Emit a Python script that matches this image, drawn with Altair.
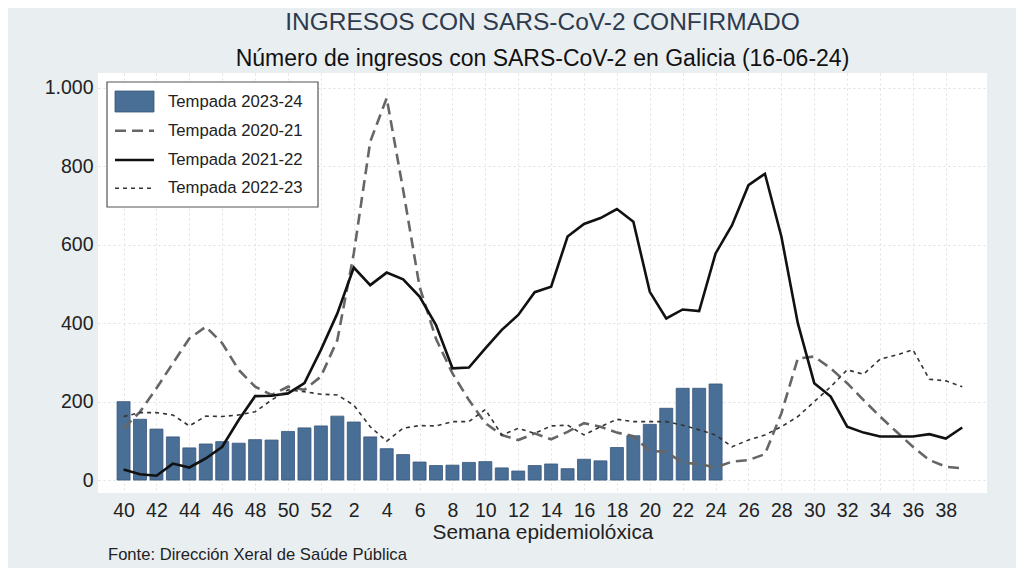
import altair as alt
import pandas as pd

# Epidemiological weeks (season runs week 40 -> week 39)
weeks = list(range(40, 53)) + list(range(1, 40))

# Season 2023-24 (bars), weeks 40..24
t2324 = [200, 155, 130, 110, 82, 92, 98, 94, 103, 102, 124, 133, 138,
         163, 148, 110, 80, 65, 46,
         37, 38, 45, 47, 31, 23, 37, 41, 29, 53, 49, 83, 113, 142, 183, 234, 234, 245]

# Season 2020-21 (long dash)
t2021 = [132, 174, 234, 298, 361, 391, 349, 281, 238, 217, 238, 230, 264, 357, 578, 863, 974, 740, 493,
         360, 272, 204, 145, 115, 102, 119, 104, 123, 145, 136, 121, 112, 74, 72, 44, 41, 32, 47,
         51, 66, 170, 310, 315, 285, 247, 204, 162, 123, 85, 51, 34, 30]

# Season 2021-22 (solid)
t2122 = [27, 15, 11, 42, 32, 55, 85, 153, 214, 215, 221, 247, 332, 425, 542, 497, 529, 512, 468,
         395, 285, 287, 336, 383, 421, 479, 493, 621, 653, 668, 691, 659, 480, 412, 435, 431, 578, 650,
         752, 781, 621, 400, 247, 213, 136, 121, 111, 111, 111, 117, 106, 134]

# Season 2022-23 (short dash)
t2223 = [162, 172, 172, 166, 138, 163, 162, 166, 174, 204, 230, 225, 219, 217, 191, 136, 99, 132, 139,
         138, 149, 149, 180, 115, 132, 119, 138, 140, 115, 136, 155, 149, 149, 149, 140, 128, 115, 85,
         102, 115, 136, 162, 200, 238, 281, 270, 308, 319, 332, 257, 253, 238]

legend_labels = ["Tempada 2023-24", "Tempada 2020-21", "Tempada 2021-22", "Tempada 2022-23"]
tick_idx = list(range(0, 52, 2))
y_ticks = [0, 200, 400, 600, 800, 1000]

FONT = "Liberation Sans"
BAR_COLOR = "#4a6f96"

idx = list(range(len(weeks)))
lines_df = pd.DataFrame({"idx": idx, "week": weeks,
                         "t2021": t2021, "t2122": t2122, "t2223": t2223})
bars_df = pd.DataFrame({"idx": idx[:len(t2324)], "week": weeks[:len(t2324)], "val": t2324})

x_scale = alt.Scale(domain=[-1.25, 52.2], nice=False, zero=False)
y_scale = alt.Scale(domain=[-33, 1038], nice=False, zero=False)

x_axis = alt.Axis(values=tick_idx,
                  labelExpr="datum.value <= 12 ? toString(datum.value + 40) : toString(datum.value - 12)",
                  domain=False, ticks=False, labelFontSize=19.5, labelPadding=8,
                  labelColor="#222222", labelFont=FONT, labelOverlap=False, labelSeparation=0,
                  title="Semana epidemiolóxica", titleFontSize=20.8, titleFontWeight="normal",
                  titleFont=FONT, titleColor="#222222", titlePadding=3,
                  grid=True, gridDash=[2, 3], gridColor="#e0e0e0", labelFlush=False)
y_axis = alt.Axis(values=y_ticks,
                  labelExpr="datum.value == 1000 ? '1.000' : datum.label",
                  domain=False, ticks=False, labelFontSize=19.5, labelPadding=5,
                  labelColor="#222222", labelFont=FONT, title=None, labelOverlap=False,
                  grid=True, gridDash=[2, 3], gridColor="#e0e0e0")

bars = alt.Chart(bars_df).mark_bar(size=13, color=BAR_COLOR, stroke="#38557a",
                                   strokeWidth=0.8).encode(
    x=alt.X("idx:Q", scale=x_scale, axis=x_axis),
    y=alt.Y("val:Q", scale=y_scale, axis=y_axis),
)

base = alt.Chart(lines_df)
l2021 = base.mark_line(color="#666666", strokeWidth=2.6, strokeDash=[11, 6]).encode(
    x=alt.X("idx:Q", scale=x_scale, axis=x_axis), y=alt.Y("t2021:Q", scale=y_scale, axis=y_axis))
l2122 = base.mark_line(color="#111111", strokeWidth=2.6).encode(
    x=alt.X("idx:Q", scale=x_scale, axis=x_axis), y=alt.Y("t2122:Q", scale=y_scale, axis=y_axis))
l2223 = base.mark_line(color="#333333", strokeWidth=1.6, strokeDash=[4, 4]).encode(
    x=alt.X("idx:Q", scale=x_scale, axis=x_axis), y=alt.Y("t2223:Q", scale=y_scale, axis=y_axis))

one = pd.DataFrame({"a": [0]})
leg_box = alt.Chart(one).mark_rect(fill="white", stroke="#555555", strokeWidth=1.2).encode(
    x=alt.value(9), x2=alt.value(220), y=alt.value(9), y2=alt.value(134))
leg_bar = alt.Chart(one).mark_rect(fill=BAR_COLOR, stroke="#38557a", strokeWidth=0.8).encode(
    x=alt.value(17), x2=alt.value(56), y=alt.value(18), y2=alt.value(39))
leg_l1 = alt.Chart(one).mark_rule(color="#666666", strokeWidth=2.6, strokeDash=[11, 6]).encode(
    x=alt.value(17), x2=alt.value(56), y=alt.value(57.7))
leg_l2 = alt.Chart(one).mark_rule(color="#111111", strokeWidth=2.6).encode(
    x=alt.value(17), x2=alt.value(56), y=alt.value(87))
leg_l3 = alt.Chart(one).mark_rule(color="#333333", strokeWidth=1.6, strokeDash=[4, 4]).encode(
    x=alt.value(17), x2=alt.value(56), y=alt.value(115.3))
leg_texts = []
for lab, yy in zip(legend_labels, [28.7, 57.7, 87, 115.3]):
    leg_texts.append(
        alt.Chart(one).mark_text(text=lab, align="left", baseline="middle", fontSize=16.7,
                                 font=FONT, color="#222222").encode(
            x=alt.value(70), y=alt.value(yy)))

source = alt.Chart(one).mark_text(text="Fonte: Dirección Xeral de Saúde Pública", align="left",
                                  baseline="middle", fontSize=16.6, font=FONT,
                                  color="#222222").encode(x=alt.value(10), y=alt.value(482))

chart = alt.layer(bars, l2021, l2122, l2223, leg_box, leg_bar, leg_l1, leg_l2, leg_l3,
                  *leg_texts, source).properties(
    width=889, height=420,
    title=alt.TitleParams(text="INGRESOS CON SARS-CoV-2 CONFIRMADO",
                          subtitle="Número de ingresos con SARS-CoV-2 en Galicia (16-06-24)",
                          anchor="middle", font=FONT, fontSize=24.5, fontWeight="normal",
                          color="#2e3b4e", subtitleFont=FONT, subtitleFontSize=23,
                          subtitleColor="#111111", subtitlePadding=13, offset=1),
    autosize=alt.AutoSizeParams(type="none"),
    padding={"left": 90, "top": 65, "right": 29, "bottom": 75},
    background="#e9eef1",
).configure_view(fill="white", stroke=None).configure_axis(labelOverlap=False)

chart.save("out.html", embed_options={"renderer": "svg", "actions": False})
